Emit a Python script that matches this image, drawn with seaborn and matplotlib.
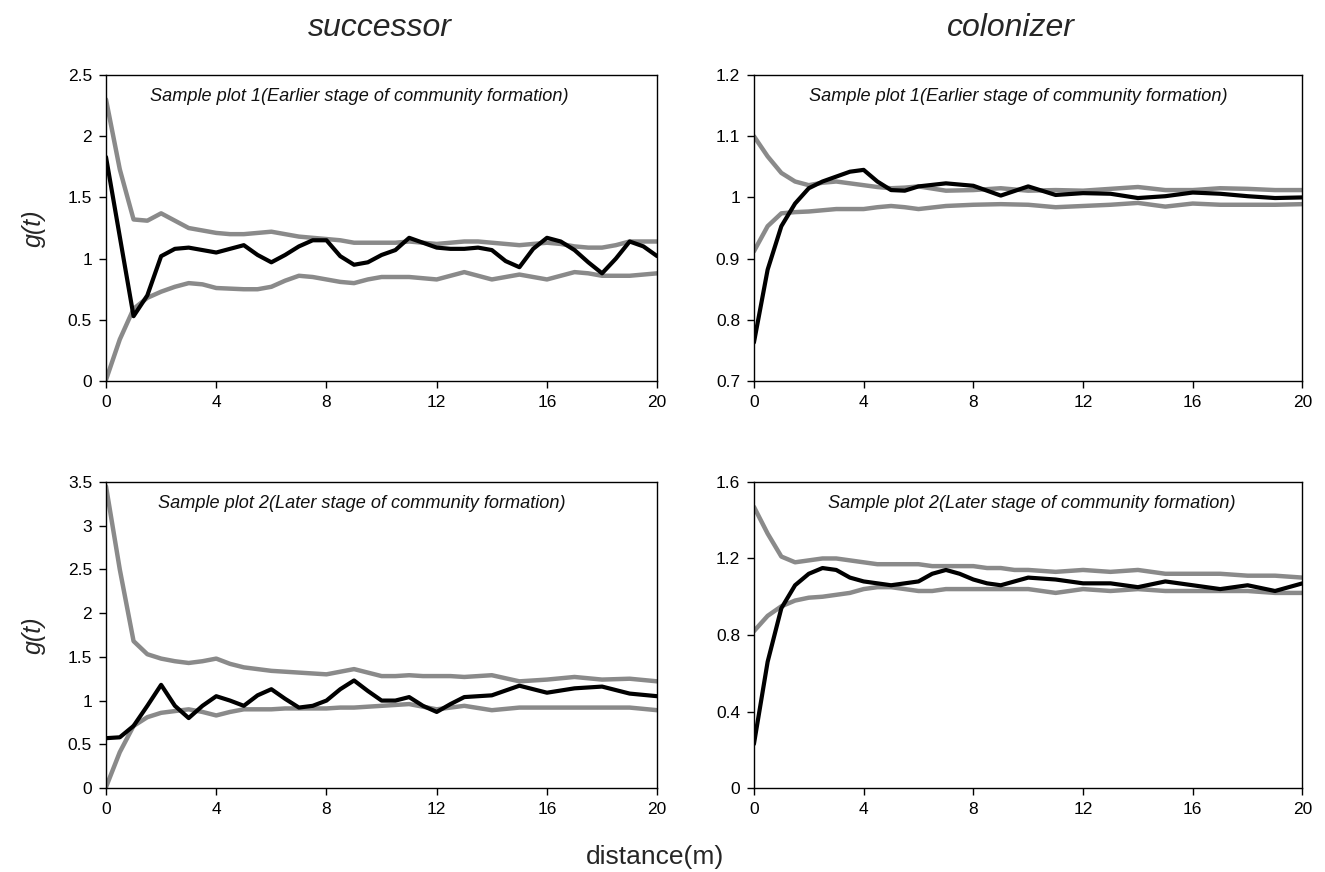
import pandas as pd
import seaborn as sns
import matplotlib.pyplot as plt
from matplotlib.ticker import FuncFormatter, MultipleLocator

# distance grid (m)
dist_a = [0, 0.5, 1, 1.5, 2, 2.5, 3, 3.5, 4, 4.5, 5, 5.5, 6, 6.5, 7, 7.5, 8, 8.5, 9, 9.5, 10,
          10.5, 11, 11.5, 12, 12.5, 13, 13.5, 14, 14.5, 15, 15.5, 16, 16.5, 17, 17.5, 18, 18.5, 19, 19.5, 20]
succ1_obs = [1.83, 1.18, 0.53, 0.70, 1.02, 1.08, 1.09, 1.07, 1.05, 1.08, 1.11, 1.03, 0.97, 1.03, 1.10,
             1.15, 1.15, 1.02, 0.95, 0.97, 1.03, 1.07, 1.17, 1.13, 1.09, 1.08, 1.08, 1.09, 1.07, 0.98,
             0.93, 1.08, 1.17, 1.14, 1.07, 0.97, 0.88, 1.00, 1.14, 1.10, 1.02]
succ1_up = [2.30, 1.73, 1.32, 1.31, 1.37, 1.31, 1.25, 1.23, 1.21, 1.20, 1.20, 1.21, 1.22, 1.20, 1.18,
            1.17, 1.16, 1.15, 1.13, 1.13, 1.13, 1.13, 1.14, 1.13, 1.12, 1.13, 1.14, 1.14, 1.13, 1.12,
            1.11, 1.12, 1.13, 1.12, 1.10, 1.09, 1.09, 1.11, 1.14, 1.14, 1.14]
succ1_lo = [0.01, 0.34, 0.59, 0.68, 0.73, 0.77, 0.80, 0.79, 0.76, 0.755, 0.75, 0.75, 0.77, 0.82, 0.86,
            0.85, 0.83, 0.81, 0.80, 0.83, 0.85, 0.85, 0.85, 0.84, 0.83, 0.86, 0.89, 0.86, 0.83, 0.85,
            0.87, 0.85, 0.83, 0.86, 0.89, 0.88, 0.86, 0.86, 0.86, 0.87, 0.88]

dist_b = [0, 0.5, 1, 1.5, 2, 2.5, 3, 3.5, 4, 4.5, 5, 5.5, 6, 7, 8, 9, 10, 11, 12, 13, 14, 15, 16, 17, 18, 19, 20]
col1_obs = [0.763, 0.882, 0.953, 0.990, 1.015, 1.026, 1.034, 1.042, 1.045, 1.026, 1.012, 1.011, 1.018,
            1.023, 1.019, 1.003, 1.018, 1.004, 1.007, 1.006, 0.999, 1.002, 1.008, 1.006, 1.002, 0.999, 1.000]
col1_up = [1.100, 1.067, 1.040, 1.026, 1.020, 1.024, 1.026, 1.023, 1.020, 1.017, 1.015, 1.016, 1.018,
           1.011, 1.012, 1.015, 1.011, 1.012, 1.011, 1.014, 1.017, 1.012, 1.012, 1.015, 1.014, 1.012, 1.012]
col1_lo = [0.912, 0.953, 0.974, 0.976, 0.977, 0.979, 0.981, 0.981, 0.981, 0.984, 0.986, 0.984, 0.981,
           0.986, 0.988, 0.989, 0.988, 0.984, 0.986, 0.988, 0.991, 0.985, 0.990, 0.988, 0.988, 0.988, 0.989]

dist_c = [0, 0.5, 1, 1.5, 2, 2.5, 3, 3.5, 4, 4.5, 5, 5.5, 6, 6.5, 7, 7.5, 8, 8.5, 9, 9.5, 10, 10.5, 11,
          11.5, 12, 12.5, 13, 14, 15, 16, 17, 18, 19, 20]
succ2_obs = [0.57, 0.58, 0.71, 0.94, 1.18, 0.94, 0.80, 0.94, 1.05, 1.00, 0.94, 1.06, 1.13, 1.02, 0.92,
             0.94, 1.00, 1.13, 1.23, 1.11, 1.00, 1.00, 1.04, 0.94, 0.87, 0.96, 1.04, 1.06, 1.17, 1.09,
             1.14, 1.16, 1.08, 1.05]
succ2_up = [3.45, 2.50, 1.68, 1.53, 1.48, 1.45, 1.43, 1.45, 1.48, 1.42, 1.38, 1.36, 1.34, 1.33, 1.32,
            1.31, 1.30, 1.33, 1.36, 1.32, 1.28, 1.28, 1.29, 1.28, 1.28, 1.28, 1.27, 1.29, 1.22, 1.24,
            1.27, 1.24, 1.25, 1.22]
succ2_lo = [0.01, 0.41, 0.71, 0.81, 0.86, 0.88, 0.90, 0.87, 0.83, 0.87, 0.90, 0.90, 0.90, 0.91, 0.91,
            0.91, 0.91, 0.92, 0.92, 0.93, 0.94, 0.95, 0.96, 0.93, 0.90, 0.92, 0.94, 0.89, 0.92, 0.92,
            0.92, 0.92, 0.92, 0.89]

dist_d = [0, 0.5, 1, 1.5, 2, 2.5, 3, 3.5, 4, 4.5, 5, 5.5, 6, 6.5, 7, 7.5, 8, 8.5, 9, 9.5, 10,
          11, 12, 13, 14, 15, 16, 17, 18, 19, 20]
col2_obs = [0.23, 0.66, 0.94, 1.06, 1.12, 1.15, 1.14, 1.10, 1.08, 1.07, 1.06, 1.07, 1.08, 1.12, 1.14,
            1.12, 1.09, 1.07, 1.06, 1.08, 1.10, 1.09, 1.07, 1.07, 1.05, 1.08, 1.06, 1.04, 1.06, 1.03, 1.07]
col2_up = [1.47, 1.33, 1.21, 1.18, 1.19, 1.20, 1.20, 1.19, 1.18, 1.17, 1.17, 1.17, 1.17, 1.16, 1.16,
           1.16, 1.16, 1.15, 1.15, 1.14, 1.14, 1.13, 1.14, 1.13, 1.14, 1.12, 1.12, 1.12, 1.11, 1.11, 1.10]
col2_lo = [0.82, 0.90, 0.95, 0.98, 0.995, 1.00, 1.01, 1.02, 1.04, 1.05, 1.05, 1.04, 1.03, 1.03, 1.04,
           1.04, 1.04, 1.04, 1.04, 1.04, 1.04, 1.02, 1.04, 1.03, 1.04, 1.03, 1.03, 1.03, 1.03, 1.02, 1.02]

col_titles = ['successor', 'colonizer']
notes = ['Sample plot 1(Earlier stage of community formation)',
         'Sample plot 2(Later stage of community formation)']

sns.set_theme(style='ticks')
plt.rcParams['font.family'] = ['Liberation Sans', 'DejaVu Sans']

fig = plt.figure(figsize=(13.25, 8.72), dpi=100)
ax_a = fig.add_axes([0.080, 0.563, 0.416, 0.351])
ax_b = fig.add_axes([0.569, 0.563, 0.414, 0.351])
ax_c = fig.add_axes([0.080, 0.0963, 0.416, 0.351])
ax_d = fig.add_axes([0.569, 0.0963, 0.414, 0.351])

panels = [
    (ax_a, dist_a, succ1_obs, succ1_up, succ1_lo, (0, 2.5), 0.5, notes[0], 0.08),
    (ax_b, dist_b, col1_obs, col1_up, col1_lo, (0.7, 1.2), 0.1, notes[0], 0.1),
    (ax_c, dist_c, succ2_obs, succ2_up, succ2_lo, (0, 3.5), 0.5, notes[1], 0.095),
    (ax_d, dist_d, col2_obs, col2_up, col2_lo, (0, 1.6), 0.4, notes[1], 0.135),
]

gray = '#8a8a8a'
for ax, d, obs, up, lo, ylim, step, note, nx in panels:
    df = pd.DataFrame({'distance': d, 'obs': obs, 'up': up, 'lo': lo})
    line_kw = dict(solid_joinstyle='round', solid_capstyle='round')
    sns.lineplot(data=df, x='distance', y='up', ax=ax, color=gray, lw=3.2, **line_kw)
    sns.lineplot(data=df, x='distance', y='lo', ax=ax, color=gray, lw=3.2, **line_kw)
    sns.lineplot(data=df, x='distance', y='obs', ax=ax, color='black', lw=3, **line_kw)
    ax.set_xlim(0, 20)
    ax.set_ylim(*ylim)
    ax.xaxis.set_major_locator(MultipleLocator(4))
    ax.yaxis.set_major_locator(MultipleLocator(step))
    ax.yaxis.set_major_formatter(FuncFormatter(lambda v, p: f'{v:g}'))
    ax.set_xlabel('')
    ax.set_ylabel('')
    ax.tick_params(labelsize=12.5, length=5, width=1, colors='black', pad=5)
    for s in ax.spines.values():
        s.set_color('black')
        s.set_linewidth(1)
    ax.text(nx, 0.93, note, transform=ax.transAxes, fontsize=13.1, style='italic',
            va='center', ha='left', color='#111111')

for ax in (ax_a, ax_c):
    ax.set_ylabel('g(t)', fontsize=18, style='italic', labelpad=16)

fig.text(0.287, 0.968, col_titles[0], fontsize=23, style='italic', ha='center', va='center')
fig.text(0.763, 0.968, col_titles[1], fontsize=23, style='italic', ha='center', va='center')
fig.text(0.494, 0.017, 'distance(m)', fontsize=19, ha='center', va='center')

fig.savefig('out.png', dpi=100)
